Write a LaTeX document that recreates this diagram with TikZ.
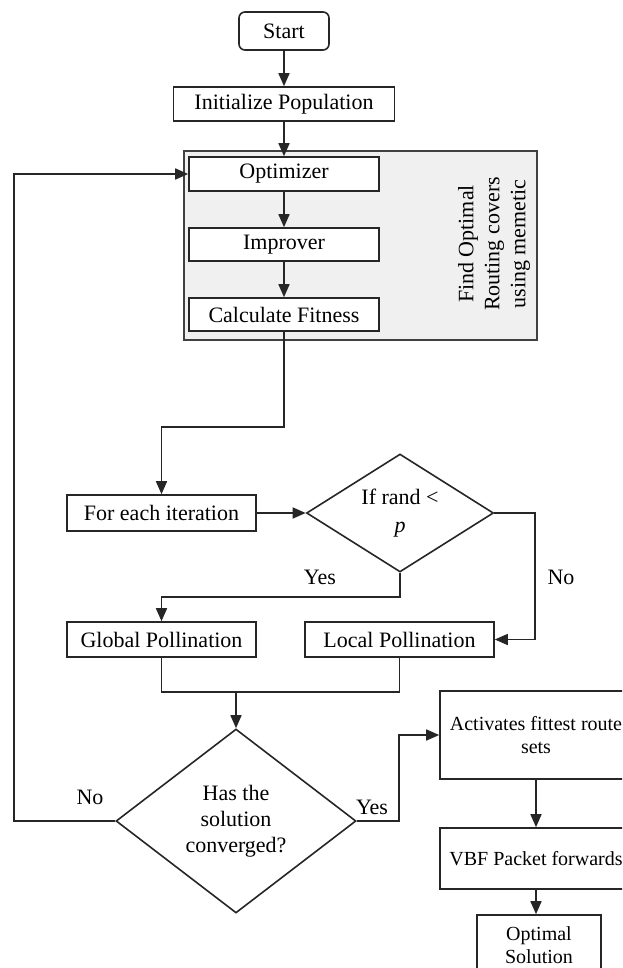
\documentclass[tikz,border=0pt]{standalone}
\usepackage{fontspec}
\setmainfont{Liberation Serif}
\usetikzlibrary{arrows.meta,shapes.geometric}
\begin{document}
\begin{tikzpicture}[x=1pt,y=-1pt,
  every node/.style={font=\fontsize{22}{26}\selectfont},
  ln/.style={line width=1.6pt, draw=black!85},
  arr/.style={ln, -{Triangle[length=13pt,width=11pt]}},
  box/.style={ln, rectangle, fill=white, inner sep=0pt, align=center},
  dec/.style={ln, diamond, fill=white, inner sep=0pt, align=center},
  rbox/.style={box, font=\fontsize{20}{23}\selectfont},
  lbl/.style={inner sep=0pt}
]
\useasboundingbox (0,0) rectangle (622,968);
\clip (0,0) rectangle (622,968);

\node[box, rounded corners=6pt, minimum width=90pt, minimum height=38pt] (start) at (284,31) {Start};
\node[box, minimum width=221pt, minimum height=34pt] (init) at (284,104) {Initialize Population};
\node[ln, rectangle, fill=gray!12, draw=black!75, minimum width=353pt, minimum height=189pt, inner sep=0pt] (grp) at (360.5,245.5) {};
\node[box, minimum width=190pt, minimum height=34pt] (opt) at (284,174) {Optimizer};
\node[box, minimum width=190pt, minimum height=33pt] (imp) at (284,244.5) {Improver};
\node[box, minimum width=190pt, minimum height=33pt] (calc) at (284,314.5) {Calculate Fitness};
\node[rotate=90, align=center, inner sep=0pt] (grptxt) at (494,244) {Find Optimal\\Routing covers\\using memetic};

\node[box, minimum width=189pt, minimum height=36pt] (iter) at (161.5,513) {For each iteration};
\node[dec, minimum width=187pt, minimum height=118pt, aspect=1.6, font=\fontsize{22}{28}\selectfont] (d1) at (400,513) {If rand <\\\textit{p}};
\node[box, minimum width=189pt, minimum height=35pt] (glob) at (161.5,639.5) {Global Pollination};
\node[box, minimum width=189pt, minimum height=35pt] (loc) at (399.5,639.5) {Local Pollination};
\node[dec, minimum width=240pt, minimum height=184pt, aspect=1.3] (d2) at (236,821) {Has the\\solution\\converged?};
\node[rbox, minimum width=192pt, minimum height=88pt] (act) at (536,735) {Activates fittest route\\sets};
\node[rbox, minimum width=192pt, minimum height=61pt] (vbf) at (536,858.5) {VBF Packet forwards};
\node[rbox, minimum width=124pt, minimum height=60pt] (sol) at (539,945) {Optimal\\Solution};

\node[lbl] (yes1) at (320,577) {Yes};
\node[lbl] (no1) at (561,577) {No};
\node[lbl] (no2) at (90,797) {No};
\node[lbl] (yes2) at (372,807) {Yes};

\coordinate (j1) at (0,427);
\coordinate (j2) at (0,597);
\coordinate (nx) at (535,0);
\coordinate (j4) at (0,692);
\coordinate (lx) at (14,0);
\coordinate (yx) at (399,0);

\draw[arr] (start.south) -- (start.south |- init.north);
\draw[arr] (init.south) -- (init.south |- opt.north);
\draw[arr] (opt) -- (imp);
\draw[arr] (imp) -- (calc);
\draw[arr] (calc.south) -- (calc.south |- j1) -| (iter.north);
\draw[arr] (iter) -- (d1);
\draw[arr] (d1.south) -- (d1.south |- j2) -| (glob.north);
\draw[arr] (d1.east) -| (nx |- loc.east) -- (loc.east);
\draw[ln] (glob.south) -- (glob.south |- j4) -- (loc.south |- j4) -- (loc.south);
\draw[arr] (d2.north |- j4) -- (d2.north);
\draw[arr] (d2.west) -| (lx |- opt.west) -- (opt.west);
\draw[arr] (d2.east) -| (yx |- act.west) -- (act.west);
\draw[arr] (act) -- (vbf);
\draw[arr] (vbf.south) -- (vbf.south |- sol.north);
\end{tikzpicture}
\end{document}
